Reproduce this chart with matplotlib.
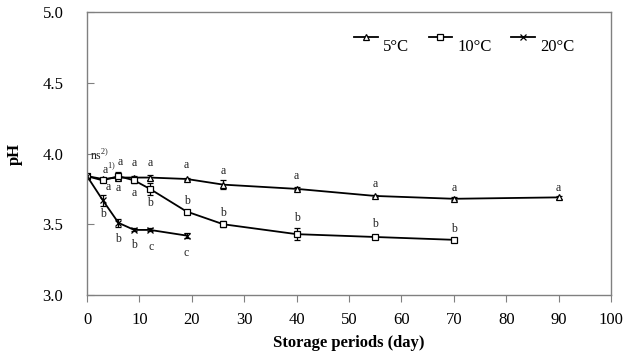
import matplotlib
matplotlib.use("Agg")
import matplotlib.pyplot as plt
from matplotlib.ticker import FormatStrFormatter
from matplotlib.lines import Line2D
from matplotlib.transforms import ScaledTranslation

plt.rcParams['font.family'] = ['Liberation Serif', 'DejaVu Serif']
plt.rcParams['mathtext.fontset'] = 'custom'
plt.rcParams['mathtext.rm'] = 'Liberation Serif'

# Data
days5 = [0, 3, 6, 9, 12, 19, 26, 40, 55, 70, 90]
ph5 = [3.84, 3.82, 3.83, 3.83, 3.83, 3.82, 3.78, 3.75, 3.70, 3.68, 3.69]
err5 = [0.01, 0.01, 0.02, 0.01, 0.02, 0.01, 0.03, 0.01, 0.01, 0.01, 0.01]

days10 = [0, 3, 6, 9, 12, 19, 26, 40, 55, 70]
ph10 = [3.84, 3.81, 3.84, 3.81, 3.75, 3.59, 3.50, 3.43, 3.41, 3.39]
err10 = [0.01, 0.01, 0.03, 0.02, 0.04, 0.01, 0.02, 0.04, 0.01, 0.01]

days20 = [0, 3, 6, 9, 12, 19]
ph20 = [3.84, 3.67, 3.51, 3.46, 3.46, 3.42]
err20 = [0.01, 0.04, 0.03, 0.01, 0.01, 0.02]

series_labels = ['5°C', '10°C', '20°C']

# significance letters: (day, pH position, text)
letters_x = [2.3, 4.2, 4.0, 6.3, 6.0, 9, 9, 12, 12, 19, 19, 19, 3, 6, 9, 12.3,
             26, 26, 40, 40, 55, 55, 70, 70, 90]
letters_y = [3.99, 3.885, 3.763, 3.94, 3.756, 3.933, 3.72, 3.933, 3.65, 3.919, 3.664, 3.297,
             3.572, 3.396, 3.353, 3.339, 3.876, 3.58, 3.841, 3.544, 3.784, 3.502,
             3.756, 3.466, 3.756]
letters_t = [r'ns$^{2)}$', r'a$^{1)}$', 'a', 'a', 'a', 'a', 'a', 'a', 'b', 'a', 'b', 'c',
             'b', 'b', 'b', 'c', 'a', 'b', 'a', 'b', 'a', 'b', 'a', 'b', 'a']

fig = plt.figure(figsize=(6.32, 3.53), dpi=100)
ax = fig.add_axes([0.1377, 0.1643, 0.8291, 0.8017])

common = dict(color='black', lw=1.3, capsize=2.5, elinewidth=0.9, capthick=0.9,
              markersize=5, markeredgewidth=0.9)
styles = [dict(marker='^', mfc='white'), dict(marker='s', mfc='white'), dict(marker='x')]
for d, p, e, st in zip([days5, days10, days20], [ph5, ph10, ph20], [err5, err10, err20], styles):
    ax.errorbar(d, p, yerr=e, mec='black', **st, **common)

for x, y, t in zip(letters_x, letters_y, letters_t):
    ax.text(x, y, t, ha='center', va='center', fontsize=8.5, color='#222222')

ax.set_xlim(0, 100)
ax.set_ylim(3.0, 5.0)
ax.set_xticks(range(0, 101, 10))
ax.set_yticks([3.0, 3.5, 4.0, 4.5, 5.0])
ax.yaxis.set_major_formatter(FormatStrFormatter('%.1f'))
ax.tick_params(axis='x', direction='out', length=5, color='#808080', labelsize=12, pad=7)
ax.tick_params(axis='y', direction='in', length=5, color='#808080', labelsize=12, pad=17)
for s in ax.spines.values():
    s.set_color('#808080')
    s.set_linewidth(1.0)

ax.set_xlabel('Storage periods (day)', fontsize=12, fontweight='bold', labelpad=5)
ax.set_ylabel('pH', fontsize=12, fontweight='bold', labelpad=14)

handles = [Line2D([], [], color='black', lw=1.3, markersize=5, markeredgewidth=0.9,
                  mec='black', **st) for st in styles]
leg = ax.legend(handles, series_labels, loc='upper right', bbox_to_anchor=(0.958, 0.985),
                ncol=3, frameon=False, fontsize=12, handlelength=1.4,
                handletextpad=0.3, columnspacing=1.2)
shift = ScaledTranslation(0, -8 / 100, fig.dpi_scale_trans)
for t in leg.get_texts():
    t.set_transform(t.get_transform() + shift)

fig.savefig('out.png', dpi=100)
